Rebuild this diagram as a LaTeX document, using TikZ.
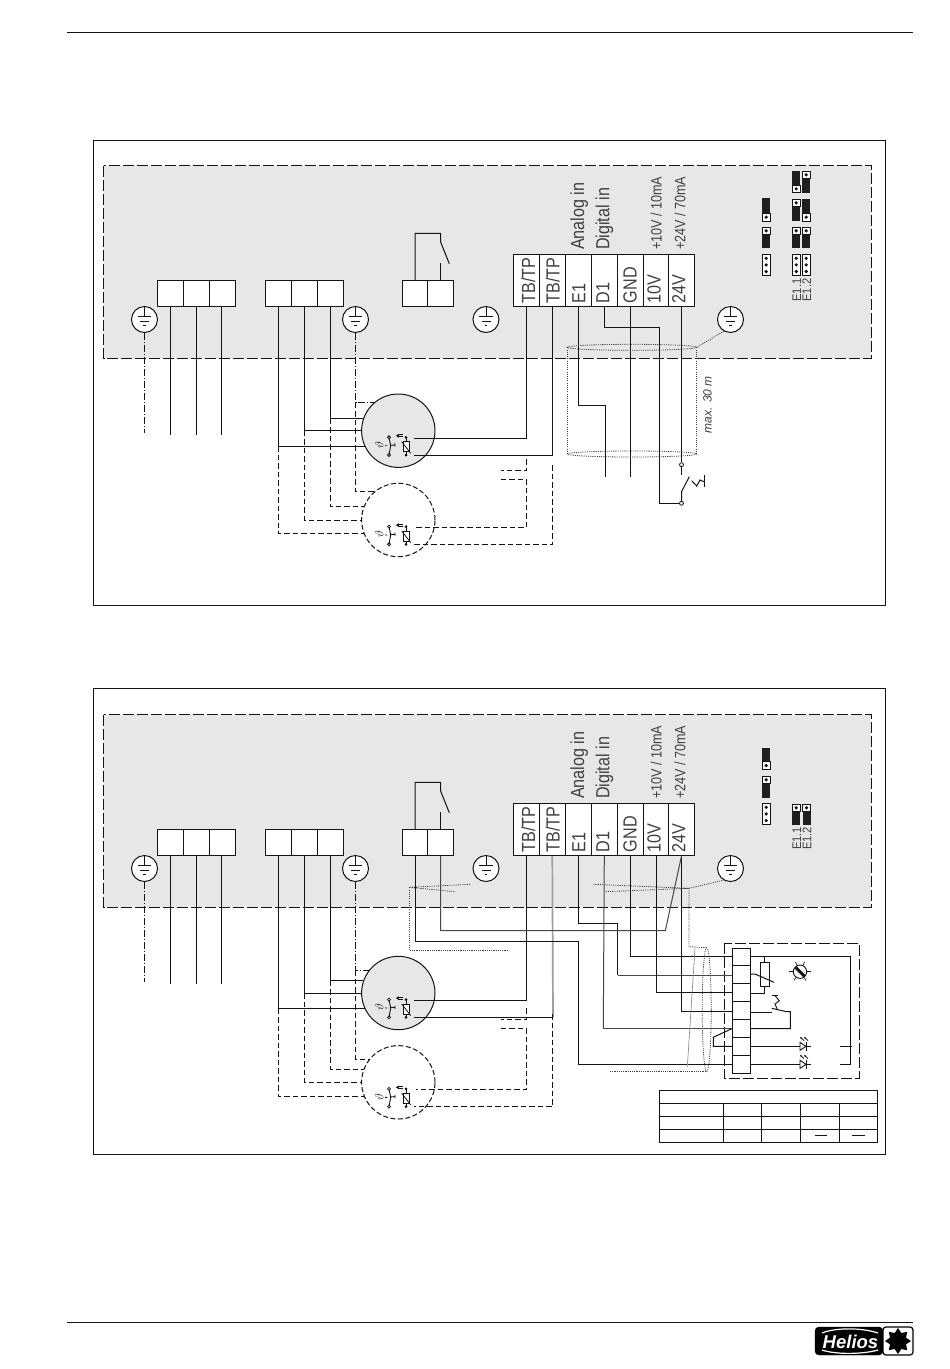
\documentclass[tikz,border=0pt]{standalone}
\usepackage{fontspec}
\setmainfont{Liberation Sans}
\usetikzlibrary{calc,shapes.geometric,arrows.meta}
\definecolor{panelgrey}{HTML}{E7E7E7}
\definecolor{ink}{HTML}{141414}
\definecolor{txt}{HTML}{404040}
\tikzset{
  wire/.style={draw=ink,line width=1pt},
  midwire/.style={draw=black!72,line width=1pt},
  palewire/.style={draw=black!38,line width=1.7pt},
  thinwire/.style={draw=black!50,line width=.6pt},
  dashwire/.style={draw=ink,line width=.9pt,dash pattern=on 5.5pt off 3pt},
  dashdotwire/.style={draw=ink,line width=.9pt,dash pattern=on 7pt off 2pt on 1pt off 2pt},
  regionline/.style={draw=ink,line width=.9pt,dash pattern=on 11pt off 3pt},
  shield/.style={draw=black!75,line width=.8pt,dash pattern=on 1.1pt off 1.1pt},
  cellbox/.style={draw=ink,line width=1pt,fill=white,inner sep=0pt,rectangle},
  groundc/.style={draw=ink,line width=1pt,fill=white,circle,inner sep=0pt,minimum size=26pt},
  motorc/.style={draw=ink,line width=1pt,fill=panelgrey,circle,inner sep=0pt,minimum size=73.4pt},
  motord/.style={draw=ink,line width=1pt,fill=white,circle,inner sep=0pt,minimum size=73.4pt,dash pattern=on 5pt off 2.5pt},
  pinc/.style={draw=ink,line width=.8pt,fill=white,circle,inner sep=0pt,minimum size=4pt},
  biglab/.style={rotate=90,anchor=base west,inner sep=0pt,text=txt,font=\fontsize{19}{19}\selectfont,xscale=.85},
  midlab/.style={rotate=90,anchor=base west,inner sep=0pt,text=txt,font=\fontsize{15}{15}\selectfont,xscale=.84},
  smalllab/.style={rotate=90,anchor=base west,inner sep=0pt,text=txt,font=\fontsize{12.5}{12.5}\selectfont,xscale=.89},
}
% named cell between x0,x1 and y0,y1
\newcommand{\cellat}[5]{%
  \pgfmathsetmacro\cw{#3-#2}\pgfmathsetmacro\ch{#5-#4}%
  \pgfmathsetmacro\cx{(#3+#2)/2}\pgfmathsetmacro\cy{(#5+#4)/2}%
  \node[cellbox,minimum width=\cw pt,minimum height=\ch pt] (#1) at (\cx,\cy) {};}
\newcommand{\groundat}[3]{%
  \node[groundc] (#1) at (#2,#3) {};
  \begin{scope}[shift={(#2,#3)}]
    \draw[ink,line width=.9pt] (0,-13) -- (0,-3) (-6.7,-3) -- (6.7,-3) (-4.5,1.8) -- (4.5,1.8) (-1.3,5.6) -- (1.3,5.6);
  \end{scope}}
\newcommand{\jblack}[3]{\fill[black!88] (#1,#2) rectangle (#1+7.8,#3);}
\newcommand{\jpinA}[2]{%
  \draw[ink,line width=.9pt,fill=white] (#1,#2) rectangle (#1+7.8,#2+7.6);
  \fill[ink] (#1+3.9,#2+3.8) circle (1.8);}
\newcommand{\jpinC}[2]{%
  \draw[ink,line width=.9pt,fill=white] (#1,#2) rectangle (#1+7.8,#2+21.3);
  \fill[ink] (#1+3.9,#2+4) circle (1.8) (#1+3.9,#2+10.6) circle (1.8) (#1+3.9,#2+17.2) circle (1.8);}
% thermal contact and thermistor, drawn round the motor centre
\newcommand{\motorsym}[2]{%
  \begin{scope}[shift={(#2)}]
    \draw[ink,line width=.9pt] (-9.3,6.6) -- (-7.6,15) -- (-9.3,24.3);
    \draw[ink,line width=.9pt] (-13.3,15) -- (-11,15) (-8.5,14.6) -- (-3.3,14.3) (-3.3,12.5) -- (-3.3,16);
    \draw[ink,line width=.8pt,fill=white] (-9.3,6.6) circle (1.5) (-9.3,24.3) circle (1.5);
    \node[inner sep=0pt,rotate=90,text=ink,font=\fontsize{12}{12}\selectfont] (#1th) at (-19,14.5) {$\vartheta$};
    \draw[ink,line width=.9pt] (7.7,6.6) -- (7.7,24.3);
    \draw[ink,line width=1pt,fill=white] (5.5,11) rectangle (11,21);
    \draw[ink,line width=.8pt] (3.4,11) -- (11.2,21) -- (12.4,22.6);
    \fill[ink] (7.7,6.6) circle (1.5) (7.7,24.3) circle (1.5);
    \draw[ink,line width=1pt] (0,4.2) -- (5,4.2) (0,6) -- (5,6);
    \fill[ink] (-2.5,5.1) -- (0.5,3.3) -- (0.5,6.9) -- cycle;
  \end{scope}}
% the part the two panels share: #1 prefix, #2 offset of upper part, #3 offset of motors, #4 branch angle
\newcommand{\panelcommon}[4]{%
\begin{scope}[shift={(0,#2)}]
  \fill[panelgrey] (103.5,165.5) rectangle (871,358);
  \draw[regionline] (103.5,165.5) rectangle (871,358);
  \cellat{#1a1}{157.5}{183.5}{280.5}{306.5}\cellat{#1a2}{183.5}{209.5}{280.5}{306.5}\cellat{#1a3}{209.5}{235.5}{280.5}{306.5}
  \cellat{#1b1}{265.5}{291.5}{280.5}{306.5}\cellat{#1b2}{291.5}{317.5}{280.5}{306.5}\cellat{#1b3}{317.5}{343.5}{280.5}{306.5}
  \cellat{#1c1}{402.5}{427.5}{280.5}{306.5}\cellat{#1c2}{427.5}{453.5}{280.5}{306.5}
  \cellat{#1t1}{513.3}{539.3}{254.5}{306.5}\cellat{#1t2}{539.3}{565.3}{254.5}{306.5}\cellat{#1t3}{565.3}{591.3}{254.5}{306.5}
  \cellat{#1t4}{591.3}{617.3}{254.5}{306.5}\cellat{#1t5}{617.3}{643.3}{254.5}{306.5}\cellat{#1t6}{643.3}{668.7}{254.5}{306.5}\cellat{#1t7}{668.7}{694.3}{254.5}{306.5}
  \node[biglab] (#1l1) at (535,303.3) {TB/TP};
  \node[biglab] (#1l2) at (559.5,303.3) {TB/TP};
  \node[biglab] (#1l3) at (585.3,303.3) {E1};
  \node[biglab] (#1l4) at (609.3,303.3) {D1};
  \node[biglab] (#1l5) at (636.7,303.3) {GND};
  \node[biglab] (#1l6) at (660.7,303.3) {10V};
  \node[biglab] (#1l7) at (685.3,303.3) {24V};
  \node[biglab] (#1l8) at (584,250) {Analog in};
  \node[biglab] (#1l9) at (609.3,250) {Digital in};
  \node[midlab] (#1l10) at (661.7,250) {+10V / 10mA};
  \node[midlab] (#1l11) at (685.3,250) {+24V / 70mA};
  \groundat{#1g1}{144.5}{319.5}\groundat{#1g2}{355.5}{319.5}\groundat{#1g3}{486}{319.5}\groundat{#1g4}{730.5}{319.5}
  \coordinate (#1e0) at (144.5,433);
  \coordinate (#1e1) at (170.5,434.5);
  \coordinate (#1e2) at (196.5,434.5);
  \coordinate (#1e3) at (221.5,434.5);
  \draw[dashdotwire] (#1g1.south) -- (#1e0);
  \draw[wire] (#1a1.south) -- (#1e1);
  \draw[wire] (#1a2.south) -- (#1e2);
  \draw[wire] (#1a3.south) ++(-1,0) -- (#1e3);
  \coordinate (#1r1) at (#1c1.north |- 0,233.3);
  \coordinate (#1r2) at (#1c2.north |- 0,233.3);
  \coordinate (#1r3) at (#1c2.north |- 0,241.7);
  \coordinate (#1r4) at (449.3,263.7);
  \coordinate (#1r5) at (#1c2.north |- 0,263.3);
  \draw[wire] (#1c1.north) -- (#1r1) -- (#1r2) -- (#1r3) -- (#1r4);
  \draw[wire] (#1c2.north) -- (#1r5);
  % stubs of the second motor's thermal wires
  \coordinate (#1s1) at (526.3,459);
  \coordinate (#1s2) at (500.5,470.3);
  \coordinate (#1s3) at (500.5,479.3);
  \coordinate (#1s4) at (552.7,465);
\end{scope}
\begin{scope}[shift={(0,#3)}]
  \node[motorc] (#1m1) at (398.3,430.7) {};
  \node[motord] (#1m2) at (398.3,520) {};
  \motorsym{#1m1}{398.3,430.7}
  \motorsym{#1m2}{398.3,520}
  \coordinate (#1m1a) at (414,438.3);
  \coordinate (#1m1b) at (414,455.3);
  \coordinate (#1m2a) at (416,527.3);
  \coordinate (#1m2b) at (414,544.3);
\end{scope}
\draw[wire] (#1b3.south) |- (#1m1.161);
\draw[wire] (#1b2.south) |- (#1m1.180);
\draw[wire] (#1b1.south) |- (#1m1.205);
\draw[dashwire] (#1b3.south |- #1m1.161) |- (#1m2.159);
\draw[dashwire] (#1b2.south |- #1m1.180) |- (#1m2.180);
\draw[dashwire] (#1b1.south |- #1m1.205) |- (#1m2.202);
\draw[dashdotwire] (#1g2.south) |- (#1m1.#4);
\draw[dashwire] (#1g2.south |- #1m1.#4) |- (#1m2.#4);
\draw[wire] (#1t1.south) |- (#1m1a);
\draw[dashwire] (#1s1) |- (#1s2);
\draw[dashwire] (#1s3) -| (#1t1.south |- #1m2a) -- (#1m2a);
}
\begin{document}
\begin{tikzpicture}[x=1pt,y=-1pt]
\useasboundingbox[fill=white] (0,0) rectangle (950,1369);
\draw[ink,line width=.9pt] (67,32) -- (913,32);
\draw[ink,line width=.7pt] (67,1322) -- (913,1322);
\draw[ink,line width=.9pt] (93.5,140) rectangle (885.5,605);
\draw[ink,line width=.9pt] (93.5,688.5) rectangle (885.5,1154);

% ---------- upper panel
\panelcommon{p}{0}{0}{131}
\draw[wire] (pt2.south) |- (pm1b);
\draw[dashwire] (ps4) |- (pm2b);
% jumpers
\jblack{762.3}{198.3}{221}\jpinA{762.3}{213.4}
\jblack{762.3}{227}{248.3}\jpinA{762.3}{227}
\jpinC{762.3}{254.3}
\jblack{792.3}{171}{192.7}\jpinA{792.3}{185.1}
\jblack{792.3}{199}{221}\jpinA{792.3}{199}
\jblack{792.3}{227}{248.3}\jpinA{792.3}{227}
\jpinC{792.3}{254.3}
\jblack{802.3}{171}{192.7}\jpinA{802.3}{171}
\jblack{802.3}{199}{221}\jpinA{802.3}{213.4}
\jblack{802.3}{227}{248.3}\jpinA{802.3}{227}
\jpinC{802.3}{254.3}
\node[smalllab] (pj1) at (801.2,301.7) {E1.1};
\node[smalllab] (pj2) at (811,301.7) {E1.2};
% control cable and switch
\node[pinc] (psw1) at (681.5,464.7) {};
\node[pinc] (psw2) at (681.5,503.3) {};
\coordinate (pd1) at (659.3,327.7);
\coordinate (pd2) at (659.3,503.3);
\coordinate (pn1) at (579,405.3);
\coordinate (pn2) at (605.3,405.3);
\coordinate (pn3) at (605.3,476.7);
\coordinate (pgn) at (630.3,476.7);
\coordinate (psa) at (681.5,475);
\coordinate (psb) at (681.5,491.7);
\coordinate (psc) at (689.3,476.7);
\draw[wire] (pt3.south) |- (pn1) -- (pn2) -- (pn3);
\draw[wire] (pt4.south) |- (pd1) -- (pd2) -- (psw2.west);
\draw[wire] (pt5.south) -- (pgn);
\draw[wire] (pt7.south) -- (psw1.north);
\draw[wire] (psw1.south) -- (psa);
\draw[wire] (psw2.north) -- (psb) -- (psc);
\draw[wire] (691.7,480.7) -- (696.7,486) -- (700,480) -- (704,481.7);
\draw[wire] (704,475) -- (704,487.3);
\draw[shield] (632,347.3) ellipse (64.7 and 3);
\draw[shield] (632,454) ellipse (64.7 and 3);
\draw[shield] (567.3,347.3) -- (567.3,454);
\draw[shield] (696.7,347.3) -- (696.7,454);
\draw[shield] (696.7,347.3) -- (pg4.240);
\node[rotate=90,anchor=base west,inner sep=0pt,text=txt,font=\fontsize{12}{12}\selectfont\itshape] (pmax) at (711.5,433.5) {max. 30 m};

% ---------- lower panel
\panelcommon{q}{549}{562.3}{142}
\coordinate (qm1c) at (553,1017.6);
\draw[wire] (qm1c) -- (qm1b);
\draw[palewire] (qt2.south) -- (qm1c);
\draw[dashwire] (qs4) |- (qm2b);
% jumpers
\jblack{762.3}{747.7}{769.3}\jpinA{762.3}{761.7}
\jblack{762.3}{776}{797.7}\jpinA{762.3}{776}
\jpinC{762.3}{803.3}
\jblack{792.3}{804}{825}\jpinA{792.3}{804}
\jblack{802.7}{804}{825}\jpinA{802.7}{804}
\node[smalllab] (qj1) at (801.2,850) {E1.1};
\node[smalllab] (qj2) at (811.4,850) {E1.2};
% external unit
\draw[regionline] (724.3,943.3) rectangle (859.3,1078.3);
\cellat{qu1}{732.3}{750.3}{948.3}{965.3}\cellat{qu2}{732.3}{750.3}{965.3}{983.3}\cellat{qu3}{732.3}{750.3}{983.3}{1001.3}
\cellat{qu4}{732.3}{750.3}{1001.3}{1019.3}\cellat{qu5}{732.3}{750.3}{1019.3}{1037.3}\cellat{qu6}{732.3}{750.3}{1037.3}{1055.3}\cellat{qu7}{732.3}{750.3}{1055.3}{1073.3}
% wires from the terminal block to the unit
\coordinate (qn1) at (578.3,923.3);
\coordinate (qn2) at (617.7,923.3);
\coordinate (qn3) at (617.7,975);
\draw[wire] (qt3.south) |- (qn1) -- (qn2) -- (qn3);
\draw[midwire] (qn3) -- (qu2.west |- qn3);
\draw[wire] (qt5.south) |- (qu1.west);
\draw[wire] (qt6.south) |- (qu3.west);
\coordinate (qn4) at (680.3,1011);
\draw[wire] (qt7.south) -- (qt7.south |- qn4) -- (qu4.west |- qn4);
\coordinate (qd1) at (603.3,1028.7);
\draw[midwire] (qt4.south) -- (qd1);
\draw[midwire] (qd1) -- (qu5.west |- qd1);
\coordinate (qk1) at (578.3,941.7);
\coordinate (qk2) at (578.3,1064.3);
\draw[wire] (qc1.south) |- (qk1) -- (qk2) -- (qu7.west);
\coordinate (qf1) at (665.3,930.7);
\draw[midwire] (qc2.south) |- (qf1) -- (qt7.south);
% small link into row 6
\coordinate (qh1) at (713.3,1037.3);
\coordinate (qh2) at (713.3,1046.3);
\draw[wire] (qu5.west |- 0,1028.7) -- (qh1) -- (qh2) -- (qu6.west);
% shield
\coordinate (qsl) at (409,887.3);
\coordinate (qsr) at (689,888.3);
\coordinate (qsb) at (689,946.7);
\draw[shield] (470,884.3) -- (qsl) -- (455.7,891.7);
\draw[shield] (qsl) -- (409,950.3) -- (508.3,950.3);
\draw[shield] (593.3,884.3) -- (qsr) -- (605,891.7);
\draw[shield] (qsr) -- (qg4.240);
\draw[shield] (qsr) -- (qsb) -- (706.7,947.7);
\draw[shield] (706.7,1009.7) ellipse (4.5 and 62);
\draw[shield] (610,1071.7) -- (706.7,1071.7);
\draw[thinwire] (695,948.3) -- (687.3,1067);
% right-hand side of the unit
\coordinate (qv1) at (850.7,956.3);
\coordinate (qv2) at (850.7,1064.3);
\coordinate (qv3) at (840,1064.3);
\draw[wire] (qu1.east |- qv1) -- (qv1) -- (qv2) -- (qv3);
\draw[wire] (840,1046.3) -- (851.5,1046.3);
\cellat{qres}{760.3}{769.3}{962.3}{986.7}
\draw[wire] (qres.north) -- (qres.north |- qv1);
\coordinate (qw1) at (764.8,993.3);
\draw[wire] (qres.south) -- (qw1) -- (qu3.east |- qw1);
\draw[wire] (qu2.east) -- (755,974) -- (774,982.3);
\draw[wire] (qu4.east |- 0,1012.3) -- (771.7,1012.3);
\draw[wire] (771.7,1008.3) -- (786.7,1011.7) -- (790.3,1011.7) -- (790.3,1028.5) -- (qu5.east |- 0,1028.5);
\draw[wire,line width=.9pt] (772.3,995.7) -- (777.7,995.7);
\draw[wire,line width=.9pt] (775,995.7) -- (779.3,1000.7) -- (775,1004) -- (777.3,1009.3);
% potentiometer
\node[circle,draw=ink,line width=.9pt,fill=white,inner sep=0pt,minimum size=13.4pt] (qpot) at (800,971.7) {};
\draw[ink,line width=3pt] (795.6,967.3) -- (804.4,976.1);
\foreach \a in {0,65,115,180,235,305} {\draw[ink,line width=.7pt] (qpot.\a) -- ($(qpot.center)!1.5!(qpot.\a)$);}
% light-emitting diodes
\draw[wire] (qu6.east) -- (810.7,1046.3);
\draw[wire] (qu7.east |- qv2) -- (810.7,1064.3);
\draw[ink,line width=.9pt,fill=white] (800,1042.3) -- (806,1046.3) -- (800,1050.3) -- cycle;
\draw[ink,line width=1pt] (806,1042) -- (806,1050.6);
\draw[ink,line width=.9pt,fill=white] (800,1060.3) -- (806,1064.3) -- (800,1068.3) -- cycle;
\draw[ink,line width=1pt] (806,1060) -- (806,1068.6);
\draw[ink,line width=.8pt,-{Latex[length=2pt,width=2pt]}] (804,1040.5) -- (800,1037);
\draw[ink,line width=.8pt,-{Latex[length=2pt,width=2pt]}] (808,1040.5) -- (804,1037);
\draw[ink,line width=.8pt,-{Latex[length=2pt,width=2pt]}] (804,1058.5) -- (800,1055);
\draw[ink,line width=.8pt,-{Latex[length=2pt,width=2pt]}] (808,1058.5) -- (804,1055);
% table
\draw[ink,line width=.9pt] (659.3,1090.3) rectangle (877.7,1142.3);
\draw[ink,line width=.9pt] (659.3,1103.3) -- (877.7,1103.3) (659.3,1116.3) -- (877.7,1116.3) (659.3,1129.3) -- (877.7,1129.3);
\draw[ink,line width=.9pt] (723.3,1103.3) -- (723.3,1142.3) (761.3,1103.3) -- (761.3,1142.3) (800.3,1103.3) -- (800.3,1142.3) (839.3,1103.3) -- (839.3,1142.3);
\draw[ink,line width=.9pt] (815.3,1135) -- (827.3,1135) (852.3,1135) -- (865,1135);

% ---------- logo
\node[rounded corners=4pt,fill=black,draw=black,inner sep=0pt,rectangle,minimum width=68pt,minimum height=28pt] (logo) at (849,1341) {};
\node[inner sep=0pt,text=white,font=\fontsize{18.5}{18.5}\selectfont\bfseries\itshape] (logotxt) at (850.5,1341.5) {Helios};
\draw[white,line width=1.2pt] (822,1333) .. controls (835,1327.5) and (862,1327.5) .. (878,1333);
\draw[white,line width=1.2pt] (822,1350) .. controls (835,1354.5) and (862,1354.5) .. (878,1350);
\node[rounded corners=3pt,fill=white,draw=black,line width=1.2pt,inner sep=0pt,rectangle,minimum width=30pt,minimum height=28pt] (gearbox) at (898,1341) {};
\node[star,star points=8,star point ratio=1.5,fill=black,inner sep=0pt,minimum size=26pt] (gear) at (898,1341) {};
\end{tikzpicture}
\end{document}
